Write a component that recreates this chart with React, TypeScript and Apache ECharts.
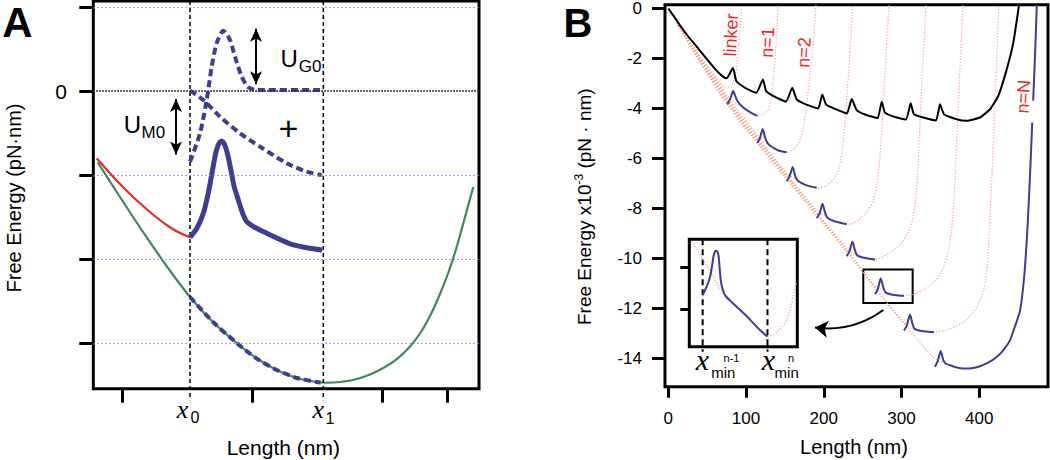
import React, { useEffect, useRef } from "react";
import * as echarts from "echarts";

type P = [number, number];

// ---------------- Panel A (schematic; x and y in tick units) ----------------
const aXTicks = [1, 3, 5, 6];
const aYTicks = [1, 0, -1, -2, -3];
const aGridLines = [1, -1, -2, -3];
const aX0 = 2.037;
const aX1 = 4.091;

const aGreen: P[] = [
  [0.615, -0.849], [0.958, -1.262], [1.344, -1.714], [1.698, -2.107], [2.037, -2.452],
  [2.391, -2.75], [2.757, -3.0], [3.054, -3.179], [3.373, -3.321], [3.686, -3.417],
  [3.989, -3.464], [4.143, -3.473], [4.348, -3.464], [4.579, -3.435], [4.81, -3.375],
  [5.041, -3.286], [5.242, -3.179], [5.427, -3.042], [5.596, -2.869], [5.75, -2.655],
  [5.889, -2.417], [6.027, -2.143], [6.151, -1.845], [6.258, -1.548], [6.351, -1.286],
  [6.402, -1.143],
];
const aRed: P[] = [
  [0.599, -0.801], [0.758, -0.94], [0.928, -1.083], [1.112, -1.226], [1.313, -1.369],
  [1.513, -1.5], [1.698, -1.607], [1.867, -1.685], [2.037, -1.742],
];
const aBlueSolid: P[] = [
  [2.037, -1.742], [2.145, -1.631], [2.242, -1.456], [2.322, -1.202], [2.384, -0.94],
  [2.438, -0.726], [2.484, -0.625], [2.522, -0.598], [2.561, -0.625], [2.607, -0.726],
  [2.661, -0.917], [2.715, -1.131], [2.781, -1.298], [2.846, -1.452], [2.911, -1.556],
  [3.039, -1.625], [3.219, -1.694], [3.424, -1.768], [3.629, -1.833], [3.855, -1.869],
  [4.075, -1.893],
];
const aBarrier: P[] = [
  [2.037, -0.842], [2.191, -0.504], [2.294, -0.107], [2.371, 0.289], [2.448, 0.568],
  [2.55, 0.718], [2.653, 0.607], [2.73, 0.408], [2.834, 0.17], [2.935, 0.044],
  [3.065, 0.012], [4.091, 0.012],
];
const aDecay: P[] = [
  [2.037, 0.004], [2.242, -0.107], [2.499, -0.306], [2.807, -0.504], [3.115, -0.663],
  [3.527, -0.861], [3.835, -0.961], [4.066, -1.0],
];
const aOnGreen: P[] = [
  [2.037, -2.452], [2.391, -2.75], [2.757, -3.0], [3.054, -3.179], [3.373, -3.321],
  [3.686, -3.417], [3.989, -3.464], [4.05, -3.47],
];
const aArrowG: P[] = [[3.054, 0.74], [3.054, 0.08]];
const aArrowM: P[] = [[1.821, -0.095], [1.821, -0.755]];

// ---------------- Panel B (Length nm, Free energy x10^-3 pN·nm) ----------------
const bXTicks = [0, 100, 200, 300, 400];
const bYTicks = [0, -2, -4, -6, -8, -10, -12, -14];

const bBlack: P[] = [
  [0, 0], [7.3, -0.317], [15.0, -0.674], [25.5, -1.111], [37.1, -1.547], [48.5, -1.983],
  [60.1, -2.42], [69.1, -2.697], [74.9, -2.797], [83.2, -2.38], [87.5, -2.908], [94.8, -3.094],
  [102.5, -3.241], [113.2, -3.372], [121.8, -2.844], [125.7, -3.304], [132.1, -3.451],
  [139.4, -3.57], [151.4, -3.729], [159.5, -3.173], [165.1, -3.637], [173.3, -3.788],
  [182.3, -3.899], [192.9, -4.006], [198.1, -3.439], [202.8, -3.836], [211.8, -3.987],
  [220.8, -4.098], [229.8, -4.205], [235.9, -3.622], [242.3, -4.066], [253.0, -4.244],
  [265.9, -4.363], [269.7, -4.383], [274.5, -3.729], [278.7, -4.165], [291.6, -4.344],
  [305.7, -4.443], [311.8, -3.796], [316.0, -4.232], [330.2, -4.383], [344.3, -4.482],
  [349.5, -3.836], [354.6, -4.232], [370.9, -4.431], [383.8, -4.494], [400.9, -4.363],
  [413.8, -4.034], [424.4, -3.503], [435.2, -2.447], [443.7, -1.388], [450.2, -0.067],
  [451.0, 0.14],
];

const bPink: P[][] = [
  [[12.5, -0.674], [40.8, -1.904], [56.2, -2.539], [66.5, -2.975], [74.2, -3.173], [80.6, -3.134],
   [84.5, -2.856], [88.0, -2.301], [91.3, -1.19], [94.8, 0.14]],
  [[12.5, -0.674], [75.9, -3.49], [81.9, -3.669], [88.7, -3.828], [96.5, -3.987], [107.3, -4.193],
   [114.5, -4.296], [121.8, -4.244], [128.6, -4.034], [132.7, -3.57], [135.3, -2.777],
   [137.9, -1.785], [141.1, 0.14]],
  [[12.5, -0.674], [75.9, -3.566], [94.8, -4.284], [114.5, -5.066], [121.8, -5.315],
   [130.8, -5.486], [141.5, -5.684], [152.3, -5.752], [162.9, -5.593], [170.0, -5.236],
   [174.5, -4.641], [177.8, -3.887], [181.0, -2.975], [185.5, -1.706], [190.0, 0.14]],
  [[12.5, -0.674], [75.9, -3.61], [114.5, -5.113], [152.3, -6.597], [161.7, -6.783],
   [170.7, -6.962], [179.7, -7.112], [190.9, -7.18], [205.4, -7.061], [217.0, -6.624],
   [223.4, -5.752], [227.3, -4.562], [231.1, -2.975], [237.5, 0.14]],
  [[12.5, -0.674], [75.9, -3.661], [152.3, -6.644], [190.9, -8.08], [200.3, -8.271],
   [210.6, -8.461], [220.9, -8.588], [229.5, -8.636], [237.9, -8.596], [246.6, -8.398],
   [256.8, -8.092], [263.3, -7.695], [268.4, -7.061], [271.0, -6.347], [273.6, -5.355],
   [278.7, -2.578], [283.9, 0.14]],
  [[12.5, -0.674], [75.9, -3.709], [152.3, -6.692], [229.5, -9.599], [237.6, -9.778],
   [247.9, -9.917], [256.9, -10.008], [265.9, -10.048], [280.9, -9.849], [298.0, -9.453],
   [310.9, -8.794], [317.3, -7.866], [320.3, -6.811], [326.3, -2.975], [331.4, 0.14]],
  [[12.5, -0.674], [75.9, -3.756], [152.3, -6.74], [229.5, -9.647], [265.9, -11.119],
   [274.9, -11.265], [285.2, -11.404], [294.2, -11.476], [303.2, -11.503], [315.1, -11.436],
   [332.4, -11.174], [349.5, -10.643], [360.1, -9.718], [365.8, -8.398], [368.8, -6.811],
   [374.6, -2.816], [379.0, 0.14]],
  [[12.5, -0.674], [75.9, -3.804], [152.3, -6.787], [229.5, -9.694], [265.9, -11.166],
   [303.2, -12.574], [313.4, -12.753], [323.7, -12.872], [332.7, -12.932], [341.7, -12.959],
   [358.1, -12.864], [379.4, -12.562], [396.7, -11.967], [407.3, -11.039], [411.6, -9.718],
   [415.1, -7.537], [420.2, -3.768], [425.3, 0.14]],
  [[12.5, -0.674], [75.9, -3.852], [152.3, -6.835], [229.5, -9.742], [265.9, -11.214],
   [303.2, -12.622], [343.0, -14.03], [354.6, -14.181]],
];

const bBlue: P[][] = [
  [[75.9, -3.836], [79.4, -3.638], [83.6, -3.305], [86.2, -3.503], [88.8, -3.701], [96.5, -3.967], [107.3, -4.193], [114.5, -4.296]],
  [[114.5, -5.383], [118, -5.18], [121.4, -4.827], [124.8, -5.196], [127.5, -5.38], [130.8, -5.486], [141.5, -5.684], [152.3, -5.752]],
  [[152.3, -6.914], [156, -6.72], [160, -6.347], [163, -6.68], [165.5, -6.86], [171, -6.98], [180, -7.1], [190.9, -7.18]],
  [[190.9, -8.398], [194.6, -8.2], [198.4, -7.82], [201.6, -8.16], [204.3, -8.36], [210, -8.47], [218.5, -8.56], [229.5, -8.636]],
  [[229.5, -9.917], [233, -9.72], [236.9, -9.33], [240.1, -9.68], [242.8, -9.88], [248.5, -9.96], [256.5, -10.01], [265.9, -10.048]],
  [[265.9, -11.436], [269.5, -11.24], [273.2, -10.8], [276.4, -11.15], [279.2, -11.36], [285, -11.44], [293, -11.48], [303.2, -11.503]],
  [[303.2, -12.892], [306.8, -12.69], [310.9, -12.25], [313.9, -12.6], [316.6, -12.82], [322.5, -12.89], [330.5, -12.93], [341.7, -12.959]],
  [[343.0, -14.347], [346.6, -14.12], [350.4, -13.713], [353.7, -14.082], [357, -14.22], [362.3, -14.28],
   [370, -14.36], [379.4, -14.411], [390, -14.4], [400.9, -14.32], [412, -14.17], [422.4, -13.951],
   [431, -13.68], [439.5, -13.288], [445.4, -12.773], [452.4, -12.098], [457.5, -10.829],
   [461.4, -9.123], [464, -7.537], [466.3, -5.95], [468.1, -4.562]],
  [[469.3, -3.689], [471.6, -1.983], [474.0, 0.14]],
];

const bZoomBox: P[] = [[250.8, -10.444], [314.3, -11.793]];
const bArrow: P[] = [[276.5, -12.071], [188.7, -12.773]];

// ---------------- Inset (magnified transition) ----------------
const inYTicks = [-11, -12];
const inXminPrev = 265.9;
const inXminNext = 303.3;
const inPinkFall: P[] = [[259.8, -10.374], [269.0, -11.017], [278.2, -11.66]];
const inBlue: P[] = [
  [265.9, -11.66], [267.3, -11.54], [269.0, -11.374], [270.2, -11.224], [271.3, -10.969],
  [272.2, -10.731], [273.0, -10.624], [273.8, -10.605], [274.5, -10.636], [275.1, -10.731],
  [276.3, -11.302], [277.1, -11.469], [278.0, -11.588], [279.1, -11.683], [282.9, -11.838],
  [287.5, -12.017], [291.5, -12.171], [295.2, -12.333], [299.0, -12.493], [303.3, -12.648],
];
const inPinkRise: P[] = [
  [303.3, -12.648], [306.8, -12.6], [310.6, -12.469], [314.0, -12.279], [316.9, -11.921],
  [318.9, -11.54], [320.1, -11.35],
];

// frame extents (data units); each grid's x range is widened on the left by the tick length
const A_X = [0.547, 6.49];
const A_Y = [-3.544, 1.071];
const B_X = [-4.24, 488.4];
const B_Y = [-15.141, 0.147];
const IN_X = [258.2, 320.5];
const IN_Y = [-12.89, -10.333];
const A_YTICK_LEN = 0.216;
const B_YTICK_LEN = 16.7;
const IN_YTICK_LEN = 5.2;

const FONT = '"Liberation Sans", Arial, Helvetica, sans-serif';
const SERIF = '"Liberation Serif", "Times New Roman", serif';
const BLUE = "#3d3d91";
const PINK = "#f4a287";
const RED = "#e42c2a";
const GREEN = "#3b8a5a";

function txt(x: number, y: number, text: string, fontSize: number, extra: any = {}, styleExtra: any = {}) {
  return {
    type: "text",
    x,
    y,
    ...extra,
    style: {
      text,
      fontSize,
      fontFamily: FONT,
      fill: "#000",
      textAlign: "center",
      textVerticalAlign: "middle",
      ...styleExtra,
    },
  };
}

function line(data: any[], idx: number, color: string, width: number, type: any = "solid", extra: any = {}) {
  return {
    type: "line",
    xAxisIndex: idx,
    yAxisIndex: idx,
    data,
    showSymbol: false,
    symbol: "none",
    smooth: 0.25,
    silent: true,
    lineStyle: { color, width, type },
    ...extra,
  };
}

// outward y-axis ticks as markLine segments (inside the widened x range)
function yTickMarks(values: number[], xmin: number, len: number) {
  return values.map((v) => [
    { coord: [xmin - len, v], lineStyle: { color: "#000", width: 3, type: "solid" } },
    { coord: [xmin, v] },
  ]);
}

function frame(ext: number[], yext: number[], width: number, fill = "rgba(0,0,0,0)") {
  return [
    { coord: [ext[0], yext[0]], itemStyle: { color: fill, borderColor: "#000", borderWidth: width } },
    { coord: [ext[1], yext[1]] },
  ];
}

export default function App() {
  const ref = useRef<HTMLDivElement>(null);
  useEffect(() => {
    if (!ref.current) return;
    const chart = echarts.init(ref.current, undefined, { renderer: "svg" });
    const tick = (len: number, values: number[]) => ({
      show: true,
      inside: false,
      length: len,
      customValues: values,
      lineStyle: { color: "#000", width: 3 },
    });
    const noAxLine = { show: false, onZero: false };
    const noLabel = { show: false };
    const noSplit = { show: false };

    const series: any[] = [];
    // Panel A
    series.push(
      line(aGreen, 0, GREEN, 2.2, "solid", {
        clip: false,
        markLine: {
          silent: true,
          symbol: "none",
          label: { show: false },
          data: [
            ...aGridLines.map((v) => [
              { coord: [A_X[0], v], lineStyle: { color: "#7f7ff5", type: [1.5, 2.5], width: 1.2 } },
              { coord: [A_X[1], v] },
            ]),
            [
              { coord: [A_X[0], 0], lineStyle: { color: "#333", type: [1.5, 1.5], width: 1.8 } },
              { coord: [A_X[1], 0] },
            ],
            ...yTickMarks(aYTicks, A_X[0], A_YTICK_LEN),
          ],
        },
        markArea: { silent: true, label: { show: false }, data: [frame(A_X, A_Y, 3)] },
      })
    );
    series.push(
      line(aRed, 0, RED, 2.2, "solid", {
        markLine: {
          silent: true,
          symbol: ["arrow", "arrow"],
          symbolSize: [9, 13],
          label: { show: false },
          lineStyle: { color: "#000", width: 2, type: "solid" },
          data: [
            [{ coord: aArrowG[0] }, { coord: aArrowG[1] }],
            [{ coord: aArrowM[0] }, { coord: aArrowM[1] }],
          ],
        },
      })
    );
    series.push(line([[aX0, A_Y[1]], [aX0, -3.68]], 0, "#000", 1.5, [4, 3], { clip: false, smooth: false }));
    series.push(line([[aX1, A_Y[1]], [aX1, -3.68]], 0, "#000", 1.5, [4, 3], { clip: false, smooth: false }));
    series.push(line(aOnGreen, 0, BLUE, 4, [7, 4]));
    series.push(line(aBarrier, 0, BLUE, 4, [7, 4]));
    series.push(line(aDecay, 0, BLUE, 4, [7, 4]));
    series.push(line(aBlueSolid, 0, BLUE, 5));

    // Panel B
    bPink.forEach((c) => series.push(line(c, 1, PINK, 1.2, [1.2, 1.8], { smooth: 0.3 })));
    bBlue.forEach((c) => series.push(line(c, 1, BLUE, 2, "solid", { smooth: 0.2 })));
    series.push(
      line(bBlack, 1, "#000", 2, "solid", {
        smooth: 0.15,
        clip: false,
        markArea: {
          silent: true,
          label: { show: false },
          data: [frame(B_X, B_Y, 3), frame([bZoomBox[0][0], bZoomBox[1][0]], [bZoomBox[0][1], bZoomBox[1][1]], 2)],
        },
        markLine: {
          silent: true,
          symbol: "none",
          label: { show: false },
          data: yTickMarks(bYTicks, B_X[0], B_YTICK_LEN),
        },
      })
    );
    series.push({
      type: "lines",
      coordinateSystem: "cartesian2d",
      xAxisIndex: 1,
      yAxisIndex: 1,
      silent: true,
      symbol: ["none", "arrow"],
      symbolSize: 13,
      lineStyle: { color: "#000", width: 2, curveness: 0.2, opacity: 1 },
      data: [{ coords: bArrow }],
    });

    // Inset
    series.push(line([[inXminPrev, IN_Y[1]], [inXminPrev, -13.01]], 2, "#000", 2, [6, 4], { clip: false, smooth: false }));
    series.push(line([[inXminNext, IN_Y[1]], [inXminNext, -13.01]], 2, "#000", 2, [6, 4], { clip: false, smooth: false }));
    series.push(line(inPinkFall, 2, PINK, 1.4, [1.2, 1.8], { smooth: false }));
    series.push(line(inPinkRise, 2, PINK, 1.4, [1.2, 1.8], { smooth: 0.3 }));
    series.push(
      line(inBlue, 2, BLUE, 2, "solid", {
        smooth: 0.25,
        clip: false,
        markArea: { silent: true, label: { show: false }, data: [frame(IN_X, IN_Y, 3)] },
        markLine: {
          silent: true,
          symbol: "none",
          label: { show: false },
          data: yTickMarks(inYTicks, IN_X[0], IN_YTICK_LEN),
        },
      })
    );

    const graphic: any[] = [
      txt(17.5, 22, "A", 42, {}, { fontWeight: "bold" }),
      txt(578, 23, "B", 40, {}, { fontWeight: "bold" }),
      txt(61, 91, "0", 21),
      txt(14, 198, "Free Energy (pN·nm)", 20, { rotation: Math.PI / 2 }),
      txt(283.3, 447, "Length (nm)", 21),
      txt(182.5, 409.5, "x", 26, {}, { fontFamily: SERIF, fontStyle: "italic" }),
      txt(195, 417.5, "0", 16),
      txt(318.3, 409.5, "x", 26, {}, { fontFamily: SERIF, fontStyle: "italic" }),
      txt(330, 418.5, "1", 16),
      txt(289.2, 58.3, "U", 24),
      txt(310, 66, "G0", 17),
      txt(132.5, 124.2, "U", 24),
      txt(153.3, 132.5, "M0", 17),
      txt(288.3, 128.3, "+", 34),
      txt(854, 447, "Length (nm)", 20),
      txt(584, 206.7, "Free Energy x10{sup|-3} (pN · nm)", 19, { rotation: Math.PI / 2 }, {
        rich: { sup: { fontSize: 12, fontFamily: FONT, fill: "#000", verticalAlign: "top", padding: [0, 0, 10, 0] } },
      }),
      txt(731, 35, "linker", 18, { rotation: 1.52 }, { fill: RED }),
      txt(767.5, 42.5, "n=1", 18, { rotation: 1.52 }, { fill: RED }),
      txt(804, 52.5, "n=2", 18, { rotation: 1.52 }, { fill: RED }),
      txt(1023.3, 96.7, "n=N", 18, { rotation: 1.52 }, { fill: RED }),
      txt(702.5, 359.5, "x", 30, {}, { fontFamily: SERIF, fontStyle: "italic" }),
      txt(723.3, 372.5, "min", 15),
      txt(731.5, 357.5, "n-1", 11),
      txt(768.3, 359.5, "x", 30, {}, { fontFamily: SERIF, fontStyle: "italic" }),
      txt(786.7, 372.5, "min", 15),
      txt(791, 357.5, "n", 11),
    ];

    chart.setOption({
      animation: false,
      backgroundColor: "#fff",
      textStyle: { fontFamily: FONT },
      grid: [
        { left: 79.3, top: 1, width: 399.7, height: 387.7, show: false },
        { left: 652, top: 1.3, width: 396, height: 385.4, show: false },
        { left: 689.3, top: 239.3, width: 108, height: 107.4, show: true, borderWidth: 0, borderColor: "rgba(0,0,0,0)", backgroundColor: "#fff" },
        { left: 680.3, top: 239.3, width: 117, height: 107.4, show: false },
      ],
      xAxis: [
        { gridIndex: 0, type: "value", min: A_X[0] - A_YTICK_LEN, max: A_X[1], axisLine: noAxLine, axisTick: tick(14, aXTicks), axisLabel: noLabel, splitLine: noSplit },
        {
          gridIndex: 1, type: "value", min: B_X[0] - B_YTICK_LEN, max: B_X[1], axisLine: noAxLine, axisTick: tick(11, bXTicks),
          axisLabel: { show: true, customValues: bXTicks, fontSize: 17, color: "#000", fontFamily: FONT, margin: 23 },
          splitLine: noSplit,
        },
        { gridIndex: 3, type: "value", min: IN_X[0] - IN_YTICK_LEN, max: IN_X[1], axisLine: noAxLine, axisTick: { show: false }, axisLabel: noLabel, splitLine: noSplit },
      ],
      yAxis: [
        { gridIndex: 0, type: "value", min: A_Y[0], max: A_Y[1], axisLine: noAxLine, axisTick: { show: false }, axisLabel: noLabel, splitLine: noSplit },
        {
          gridIndex: 1, type: "value", min: B_Y[0], max: B_Y[1], axisLine: noAxLine, axisTick: { show: false },
          axisLabel: { show: true, customValues: bYTicks, fontSize: 17, color: "#000", fontFamily: FONT, margin: 10 },
          splitLine: noSplit,
        },
        { gridIndex: 3, type: "value", min: IN_Y[0], max: IN_Y[1], axisLine: noAxLine, axisTick: { show: false }, axisLabel: noLabel, splitLine: noSplit },
      ],
      series,
      graphic,
    });
    return () => chart.dispose();
  }, []);
  return <div ref={ref} style={{ position: "absolute", left: 0, top: 0, width: 1050, height: 460 }} />;
}
